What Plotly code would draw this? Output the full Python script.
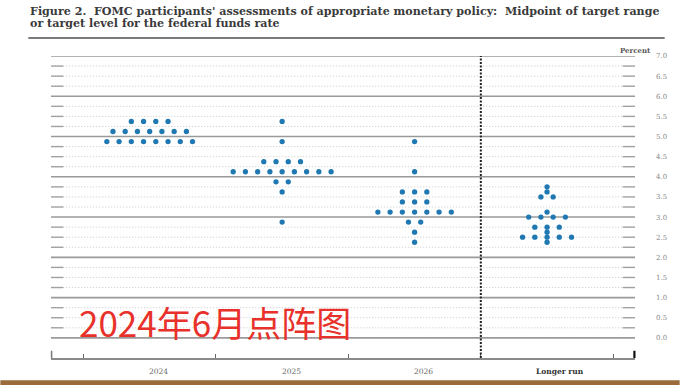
import plotly.graph_objects as go

# FOMC June 2024 projections: midpoint of target range (percent) and number of participants
columns = ["2024", "2025", "2026", "Longer run"]
rates_2024 = [5.375, 5.125, 4.875]
counts_2024 = [4, 7, 8]
rates_2025 = [5.375, 4.875, 4.375, 4.125, 3.875, 3.625, 2.875]
counts_2025 = [1, 1, 4, 9, 2, 1, 1]
rates_2026 = [4.875, 4.125, 3.625, 3.375, 3.125, 2.875, 2.625, 2.375]
counts_2026 = [1, 1, 3, 3, 7, 2, 1, 1]
rates_lr = [3.75, 3.625, 3.5, 3.125, 3.0, 2.75, 2.625, 2.5, 2.375]
counts_lr = [1, 1, 2, 1, 4, 3, 1, 5, 1]

y_tick_vals = [i * 0.5 for i in range(15)]
y_tick_text = [f"{v:.1f}" for v in y_tick_vals]

series = [(rates_2024, counts_2024), (rates_2025, counts_2025),
          (rates_2026, counts_2026), (rates_lr, counts_lr)]

# Plot-area geometry in pixels
W, H = 680, 385
L, R, T, B = 50.7, 635.3, 55.7, 358.3
X0, X1 = -0.745, 3.664
Y0, Y1 = -0.5, 7.0
DOT_GAP = 0.0924  # horizontal spacing between dots in a row (x units)


def px(xp):
    return (xp - L) / (R - L)


def py(yp):
    return (B - yp) / (B - T)


xs, ys = [], []
for ci, (rates, counts) in enumerate(series):
    for r, n in zip(rates, counts):
        for k in range(n):
            xs.append(ci + (k - (n - 1) / 2) * DOT_GAP)
            ys.append(r)

fig = go.Figure(go.Scatter(
    x=xs, y=ys, mode="markers",
    marker=dict(size=5.3, color="#1f78b2", line=dict(width=0)),
    hoverinfo="y", showlegend=False,
))

shapes = []
# horizontal reference lines every 0.25
for i in range(29):
    v = i * 0.25
    if i % 4 == 0:
        shapes.append(dict(type="line", xref="paper", yref="y", x0=0, x1=1, y0=v, y1=v,
                           line=dict(color="#9a9a9a", width=1.6), layer="below"))
    else:
        shapes.append(dict(type="line", xref="paper", yref="y", x0=0.021, x1=0.979, y0=v, y1=v,
                           line=dict(color="#c8c8c8", width=1, dash="1px,2px"), layer="below"))
        for a, b in ((0, 0.021), (0.979, 1)):
            shapes.append(dict(type="line", xref="paper", yref="y", x0=a, x1=b, y0=v, y1=v,
                               line=dict(color="#a0a0a0", width=1.4), layer="below"))

# separator before the longer-run column
shapes.append(dict(type="line", xref="x", yref="y", x0=2.5, x1=2.5, y0=Y0, y1=Y1,
                   line=dict(color="#222222", width=2, dash="2px,1.5px")))
# end ticks of the x axis
shapes.append(dict(type="line", xref="paper", yref="y", x0=0.001, x1=0.001, y0=Y0, y1=Y0 + 0.18,
                   line=dict(color="#777777", width=1.5)))
shapes.append(dict(type="line", xref="paper", yref="y", x0=0.999, x1=0.999, y0=Y0, y1=Y0 + 0.18,
                   line=dict(color="#111111", width=2.2)))
# title rule
shapes.append(dict(type="line", xref="paper", yref="paper", x0=px(28), x1=px(665),
                   y0=py(37.7), y1=py(37.7), line=dict(color="#7a7a7a", width=2)))
# bottom band
shapes.append(dict(type="rect", xref="paper", yref="paper", x0=px(0), x1=px(W),
                   y0=py(380.5), y1=py(H + 2), fillcolor="#9a6a3c", line=dict(width=0)))

serif = "DejaVu Serif"
title_font = dict(family=serif, size=11.1, color="#3a3a3a")
annotations = [
    dict(text="<b>Figure 2.  FOMC participants' assessments of appropriate monetary policy:  "
              "Midpoint of target range</b>",
         xref="paper", yref="paper", x=px(28), y=py(11.5), xanchor="left", yanchor="middle",
         showarrow=False, font=title_font),
    dict(text="<b>or target level for the federal funds rate</b>",
         xref="paper", yref="paper", x=px(28), y=py(23.5), xanchor="left", yanchor="middle",
         showarrow=False, font=title_font),
    dict(text="<b>Percent</b>", xref="paper", yref="paper", x=px(636), y=py(50.5),
         xanchor="center", yanchor="middle", showarrow=False,
         font=dict(family=serif, size=7, color="#555555")),
    dict(text="2024年6月点阵图", xref="paper", yref="paper", x=px(77), y=py(322),
         xanchor="left", yanchor="middle", showarrow=False,
         font=dict(family="Noto Sans CJK SC", size=35, color="#e8312a")),
]
for ci, name in enumerate(columns):
    label = f"<b>{name}</b>" if name == "Longer run" else name
    annotations.append(dict(text=label, xref="x", yref="paper", x=ci, y=py(372),
                            xanchor="center", yanchor="middle", xshift=9 if ci < 3 else 13,
                            showarrow=False,
                            font=dict(family=serif, size=7.5,
                                      color="#333333" if ci == 3 else "#666666")))

fig.update_layout(
    width=W, height=H,
    margin=dict(l=L, r=W - R, t=T, b=H - B),
    paper_bgcolor="white", plot_bgcolor="white",
    shapes=shapes, annotations=annotations,
    xaxis=dict(range=[X0, X1], showgrid=False, zeroline=False, showticklabels=False,
               tickvals=[-0.5, 0.5, 1.5, 2.5, 3.5], ticks="inside", ticklen=4,
               tickcolor="#666666", tickwidth=1.2,
               showline=True, linecolor="#8a8a8a", linewidth=1.5),
    yaxis=dict(range=[Y0, Y1], side="right", showgrid=False, zeroline=False,
               tickvals=y_tick_vals, ticktext=y_tick_text, ticks="",
               ticklabelstandoff=20, showline=False,
               tickfont=dict(family=serif, size=7, color="#888888")),
)

fig.write_html("out.html")
